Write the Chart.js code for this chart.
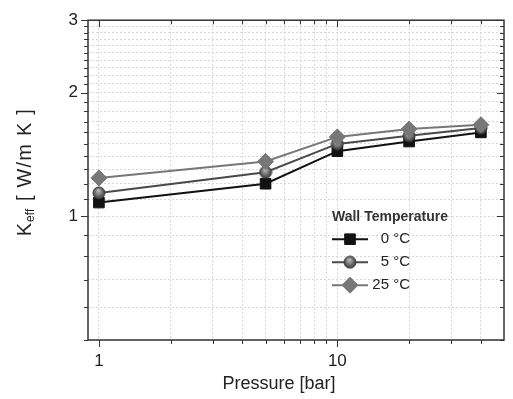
<!DOCTYPE html>
<html>
<head>
<meta charset="utf-8">
<script src="https://cdn.jsdelivr.net/npm/chart.js@4.4.1/dist/chart.umd.min.js"></script>
<style>
  html, body { margin: 0; padding: 0; background: #fff; }
  canvas { display: block; }
</style>
</head>
<body>
<canvas id="chart" width="513" height="399"></canvas>
<script>
// data
const pressures = [1, 5, 10, 20, 40];
const k0 = [1.08, 1.20, 1.44, 1.52, 1.60];
const k5 = [1.14, 1.28, 1.50, 1.57, 1.64];
const k25 = [1.24, 1.36, 1.56, 1.63, 1.67];
const seriesLabels = ["0 °C", "5 °C", "25 °C"];
const legendTitle = "Wall Temperature";

const xTicks = [1, 2, 3, 4, 5, 6, 7, 8, 9, 10, 20, 30, 40];
const xLabels = [1, 10];
const yTicks = [0.5, 0.6, 0.7, 0.8, 0.9, 1, 1.1, 1.2, 1.3, 1.4, 1.5, 1.6, 1.7, 1.8, 1.9,
                2, 2.1, 2.2, 2.3, 2.4, 2.5, 2.6, 2.7, 2.8, 2.9, 3];
const yLabels = [1, 2, 3];

const FONT = "Liberation Sans, Arial, sans-serif";

// shaded ball marker for the 5 °C series
function ballImage(r, base, light) {
  const c = document.createElement("canvas");
  const s = Math.ceil(r * 2 + 2);
  c.width = c.height = s;
  const g = c.getContext("2d");
  const grd = g.createRadialGradient(s / 2 - r * 0.1, s / 2 - r * 0.45, r * 0.1, s / 2, s / 2, r);
  grd.addColorStop(0, light);
  grd.addColorStop(1, base);
  g.fillStyle = grd;
  g.beginPath();
  g.arc(s / 2, s / 2, r, 0, Math.PI * 2);
  g.fill();
  g.strokeStyle = base;
  g.lineWidth = 1;
  g.stroke();
  return c;
}
const ball = ballImage(6, "#3c3c3c", "#b8b8b8");

const styles = [
  { color: "#111111", point: "rect", radius: 7.5 },
  { color: "#4a4a4a", point: ball, radius: 6 },
  { color: "#777777", point: "rectRot", radius: 8 }
];

function isMajor(list, v) {
  return list.some(m => Math.abs(m - v) < 1e-9);
}

// frame, mirrored ticks, axis titles and legend
const decorations = {
  id: "decorations",
  afterDraw(chart) {
    const ctx = chart.ctx;
    const a = chart.chartArea;
    const xs = chart.scales.x;
    const ys = chart.scales.y;
    ctx.save();
    ctx.strokeStyle = "#333";
    ctx.lineWidth = 1.5;
    ctx.strokeRect(a.left, a.top, a.right - a.left, a.bottom - a.top);

    ctx.lineWidth = 1;
    ctx.beginPath();
    xTicks.forEach(v => {
      const px = Math.round(xs.getPixelForValue(v)) + 0.5;
      const len = isMajor(xLabels, v) ? 7 : 4;
      ctx.moveTo(px, a.bottom); ctx.lineTo(px, a.bottom + len);
      ctx.moveTo(px, a.top); ctx.lineTo(px, a.top + len);
    });
    yTicks.forEach(v => {
      const py = Math.round(ys.getPixelForValue(v)) + 0.5;
      const len = isMajor(yLabels, v) ? 7 : 4;
      ctx.moveTo(a.left, py); ctx.lineTo(a.left - len, py);
      ctx.moveTo(a.right, py); ctx.lineTo(a.right - len, py);
    });
    ctx.stroke();

    // x title
    ctx.fillStyle = "#222";
    ctx.font = "18px " + FONT;
    ctx.textAlign = "center";
    ctx.textBaseline = "middle";
    ctx.fillText("Pressure [bar]", (a.left + a.right) / 2 - 17, 384);

    // y title with subscript
    ctx.save();
    ctx.translate(31, (a.top + a.bottom) / 2 - 8);
    ctx.rotate(-Math.PI / 2);
    ctx.textAlign = "left";
    ctx.textBaseline = "alphabetic";
    const big = "20px " + FONT, small = "12px " + FONT;
    const gap = 1.2;
    ctx.font = big;
    const rest = " [ W/m K ]";
    const wK = ctx.measureText("K").width;
    const wRest = ctx.measureText(rest).width + gap * rest.length;
    ctx.font = small;
    const wSub = ctx.measureText("eff").width + 2;
    let x0 = -(wK + wSub + wRest) / 2;
    ctx.font = big;
    ctx.fillText("K", x0, 0);
    ctx.font = small;
    ctx.fillText("eff", x0 + wK + 1, 3);
    ctx.font = big;
    let cx = x0 + wK + wSub;
    for (const ch of rest) {
      ctx.fillText(ch, cx, 0);
      cx += ctx.measureText(ch).width + gap;
    }
    ctx.restore();

    // legend
    const lx = a.right - 172;
    const ly = a.top + 197;
    ctx.font = "bold 14px " + FONT;
    ctx.textAlign = "left";
    ctx.textBaseline = "middle";
    ctx.fillStyle = "#333";
    ctx.fillText(legendTitle, lx, ly);
    ctx.font = "15px " + FONT;
    ctx.textAlign = "right";
    seriesLabels.forEach((lab, i) => {
      const y = ly + 22 + i * 23;
      const st = styles[i];
      ctx.strokeStyle = st.color;
      ctx.fillStyle = st.color;
      ctx.lineWidth = 2;
      ctx.beginPath();
      ctx.moveTo(lx, y);
      ctx.lineTo(lx + 36, y);
      ctx.stroke();
      ctx.lineWidth = 1;
      Chart.helpers.drawPoint(ctx, { pointStyle: st.point, radius: st.radius, borderWidth: 1 }, lx + 18, y);
      ctx.fillStyle = "#222";
      ctx.fillText(lab, lx + 78, y);
    });
    ctx.restore();
  }
};

const seriesData = [k0, k5, k25];

new Chart(document.getElementById("chart"), {
  type: "line",
  data: {
    datasets: seriesData.map((vals, i) => ({
      label: seriesLabels[i],
      data: pressures.map((p, j) => ({ x: p, y: vals[j] })),
      borderColor: styles[i].color,
      backgroundColor: styles[i].color,
      pointBackgroundColor: styles[i].color,
      pointBorderColor: styles[i].color,
      pointStyle: styles[i].point,
      pointRadius: styles[i].radius,
      pointBorderWidth: 1,
      borderWidth: 2,
      tension: 0,
      order: 2 - i
    }))
  },
  options: {
    responsive: false,
    animation: false,
    events: [],
    layout: { padding: { top: 14, right: 5, left: 0, bottom: 0 } },
    plugins: {
      legend: { display: false },
      tooltip: { enabled: false }
    },
    scales: {
      x: {
        type: "logarithmic",
        min: 0.9,
        max: 50,
        afterBuildTicks: s => { s.ticks = xTicks.map(v => ({ value: v })); },
        afterFit: s => { s.height = 59; },
        ticks: {
          autoSkip: false,
          maxRotation: 0,
          padding: 11,
          color: "#222",
          font: { family: FONT, size: 17 },
          callback: v => (isMajor(xLabels, v) ? String(v) : "")
        },
        grid: { color: "#d6d6d6", lineWidth: 1, drawTicks: false },
        border: { display: false, dash: [2, 2] }
      },
      y: {
        type: "logarithmic",
        min: 0.5,
        max: 3,
        afterBuildTicks: s => { s.ticks = yTicks.map(v => ({ value: v })); },
        afterFit: s => { s.width = 88; },
        ticks: {
          autoSkip: false,
          padding: 10,
          color: "#222",
          font: { family: FONT, size: 17 },
          callback: v => (isMajor(yLabels, v) ? String(v) : "")
        },
        grid: { color: "#d6d6d6", lineWidth: 1, drawTicks: false },
        border: { display: false, dash: [2, 2] }
      }
    }
  },
  plugins: [decorations]
});
</script>
</body>
</html>
